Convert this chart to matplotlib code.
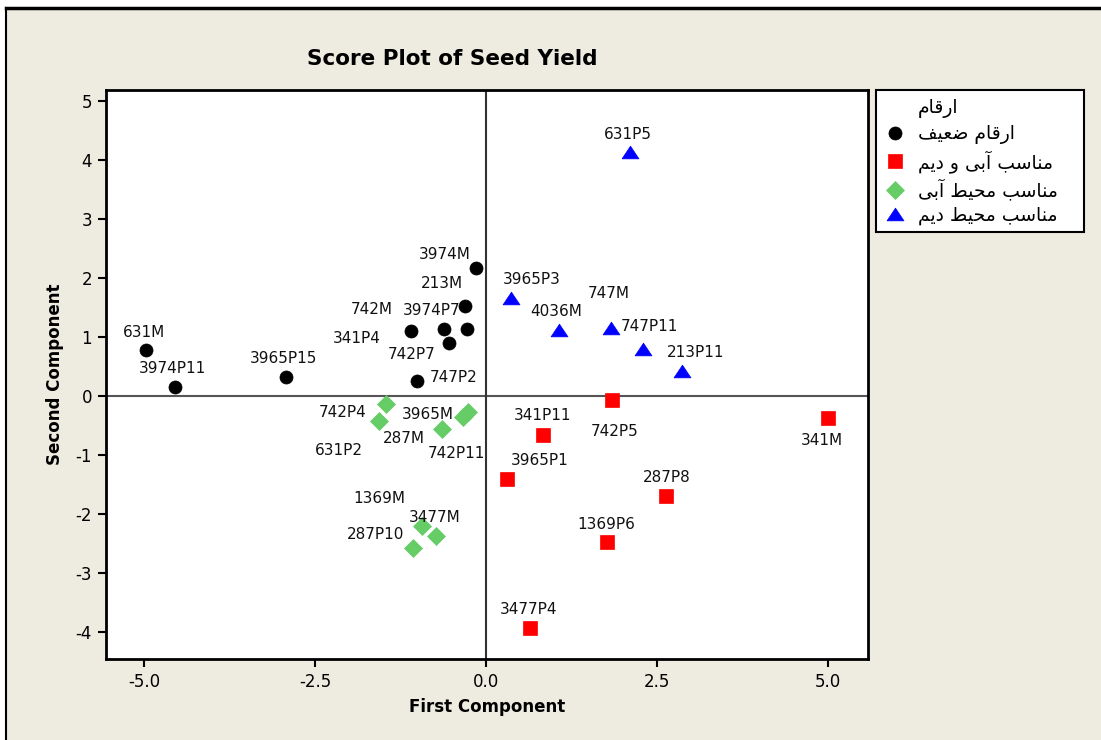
import matplotlib.pyplot as plt
from matplotlib.lines import Line2D
from matplotlib.patches import Rectangle

plt.rcParams["axes.unicode_minus"] = False

# Données (scores)
weak_names = ["631M", "3974P11", "3965P15", "742M", "3974P7", "341P4",
              "213M", "742P7", "747P2", "3974M"]
weak_x = [-4.98, -4.55, -2.93, -1.10, -0.62, -0.28, -0.30, -0.54, -1.01, -0.14]
weak_y = [0.78, 0.16, 0.33, 1.11, 1.13, 1.14, 1.53, 0.90, 0.25, 2.17]

both_names = ["742P5", "341P11", "3965P1", "287P8", "1369P6", "3477P4", "341M"]
both_x = [1.85, 0.84, 0.31, 2.64, 1.77, 0.64, 5.00]
both_y = [-0.07, -0.66, -1.41, -1.70, -2.48, -3.94, -0.37]

irr_names = ["742P4", "631P2", "287M", "3965M", "742P11", "1369M", "3477M", "287P10"]
irr_x = [-1.46, -1.57, -0.65, -0.33, -0.26, -0.93, -0.73, -1.07]
irr_y = [-0.14, -0.43, -0.56, -0.35, -0.27, -2.20, -2.38, -2.58]

dry_names = ["631P5", "3965P3", "4036M", "747M", "747P11", "213P11"]
dry_x = [2.11, 0.37, 1.07, 1.83, 2.30, 2.87]
dry_y = [4.14, 1.67, 1.12, 1.15, 0.79, 0.43]

# décalage des étiquettes (pixels)
weak_off = [(-2, 18), (-3, 18), (-2, 18), (-39, 21), (-12, 19), (-110, -10),
            (-24, 22), (-37, -12), (37, 4), (-32, 14)]
both_off = [(2, -31), (-1, 19), (33, 19), (0, 19), (-1, 18), (-1, 19), (-6, -23)]
irr_off = [(-44, -8), (-40, -29), (-38, -9), (-36, 2), (-12, -42), (-43, 27), (-1, 19), (-37, 14)]
dry_off = [(-2, 17), (20, 18), (-3, 18), (-2, 35), (6, 23), (14, 18)]

tri = [(-1, -0.75), (1, -0.75), (0, 0.75), (-1, -0.75)]

bg = "#eeebe0"
fig = plt.figure(figsize=(11.01, 7.40), dpi=100, facecolor=bg)
fig.add_artist(Rectangle((0, 1 - 8 / 740), 1, 8 / 740, transform=fig.transFigure,
                         facecolor="white", edgecolor="none"))
fig.add_artist(Rectangle((0, 0), 6 / 1101, 1, transform=fig.transFigure,
                         facecolor="white", edgecolor="none"))
fig.add_artist(Line2D([6 / 1101, 1], [1 - 8 / 740, 1 - 8 / 740], transform=fig.transFigure,
                      color="black", lw=2.5))
fig.add_artist(Line2D([6 / 1101, 6 / 1101], [0, 1 - 8 / 740], transform=fig.transFigure,
                      color="black", lw=1.5))

ax = fig.add_axes([106 / 1101, 81 / 740, 762 / 1101, 569 / 740])
ax.set_xlim(-5.56, 5.59)
ax.set_ylim(-4.46, 5.19)
ax.axhline(0, color="#555555", lw=1.5, zorder=1)
ax.axvline(0, color="#333333", lw=1.5, zorder=1)

groups = [
    (weak_x, weak_y, weak_names, weak_off, "o", "black", 9.4,
     "\uFED2\uFEF4\uFECC\uFEBF \uFEE1\uFE8E\uFED7\uFEAD\uFE8D"),
    (both_x, both_y, both_names, both_off, "s", "#ff0000", 9.4,
     "\uFEE2\uFEF3\uFEA9 \uFEED \uFEF0\uFE91\uFE81 \uFE90\uFEB3\uFE8E\uFEE8\uFEE3"),
    (irr_x, irr_y, irr_names, irr_off, "D", "#66cc66", 8.7,
     "\uFEF0\uFE91\uFE81 \uFEC2\uFEF4\uFEA4\uFEE3 \uFE90\uFEB3\uFE8E\uFEE8\uFEE3"),
    (dry_x, dry_y, dry_names, dry_off, tri, "#0000ff", 12.2,
     "\uFEE2\uFEF3\uFEA9 \uFEC2\uFEF4\uFEA4\uFEE3 \uFE90\uFEB3\uFE8E\uFEE8\uFEE3"),
]

handles = [Line2D([], [], ls="none", marker=None)]
labels = ["\uFEE1\uFE8E\uFED7\uFEAD\uFE8D"]
for xs, ys, names, offs, mk, col, ms, leg in groups:
    ax.plot(xs, ys, ls="none", marker=mk, color=col, ms=ms, mec=col, mew=0.5, zorder=3)
    for x, y, n, o in zip(xs, ys, names, offs):
        ax.annotate(n, (x, y), xytext=o, textcoords="offset pixels",
                    ha="center", va="center", fontsize=11, color="#111111")
    handles.append(Line2D([], [], ls="none", marker=mk, color=col, ms=ms, mew=0.5))
    labels.append(leg)

for s in ax.spines.values():
    s.set_linewidth(2)
ax.set_xticks([-5.0, -2.5, 0.0, 2.5, 5.0])
ax.set_xticklabels(["-5.0", "-2.5", "0.0", "2.5", "5.0"])
ax.set_yticks([-4, -3, -2, -1, 0, 1, 2, 3, 4, 5])
ax.tick_params(direction="out", length=6, width=1.5, labelsize=12, pad=4)
ax.set_xlabel("First Component", fontsize=12, fontweight="bold", labelpad=5)
ax.set_ylabel("Second Component", fontsize=12, fontweight="bold", labelpad=8)

fig.text(452 / 1101, 1 - 59 / 740, "Score Plot of Seed Yield", ha="center", va="center",
         fontsize=15.5, fontweight="bold")

# cadre de la légende
fig.add_artist(Rectangle((876 / 1101, 1 - 232 / 740), 208 / 1101, 142 / 740,
                         transform=fig.transFigure, facecolor="white",
                         edgecolor="black", lw=1.5, zorder=4))
leg = fig.legend(handles, labels, loc="upper left",
                 bbox_to_anchor=(876 / 1101, 1 - 90 / 740), borderaxespad=0,
                 fontsize=13.5, frameon=False,
                 handletextpad=0.7, handlelength=1.1, labelspacing=0.3, borderpad=0.45)
leg.set_zorder(5)

fig.savefig("out.png", dpi=100, facecolor=bg)
